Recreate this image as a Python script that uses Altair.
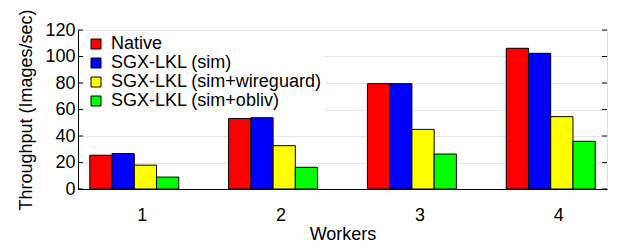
import altair as alt
import pandas as pd

workers = ["1", "2", "3", "4"]
series = ["Native", "SGX-LKL (sim)", "SGX-LKL (sim+wireguard)", "SGX-LKL (sim+obliv)"]
colors = ["#ff0000", "#0000ff", "#ffff00", "#00ff00"]
native = [25.5, 53.2, 79.5, 106.2]
sgx_sim = [26.8, 53.8, 79.5, 102.4]
sgx_wg = [18.0, 32.7, 45.0, 54.6]
sgx_obliv = [9.0, 16.4, 26.4, 36.0]
y_ticks = [0, 20, 40, 60, 80, 100, 120]

rows = []
for name, vals in zip(series, [native, sgx_sim, sgx_wg, sgx_obliv]):
    for w, v in zip(workers, vals):
        rows.append({"Workers": w, "Series": name, "Value": v})
df = pd.DataFrame(rows)
ticks_df = pd.DataFrame({"t": y_ticks})

W, H = 529, 159
FONT = "Liberation Sans"
FS = 18

yscale = alt.Scale(domain=[0, 120], nice=False)
y_axis = alt.Axis(title="Throughput (Images/sec)", values=y_ticks, ticks=False,
                  labelOverlap=False, labelPadding=3, titlePadding=9,
                  domainColor="black", gridColor="#e6e6e6", gridWidth=1,
                  labelFontSize=FS, titleFontSize=FS, labelFont=FONT, titleFont=FONT,
                  labelColor="black", titleColor="black", titleFontWeight="normal")

bars = alt.Chart(df).mark_bar(stroke="black", strokeWidth=1).encode(
    x=alt.X("Workers:N", sort=workers,
            scale=alt.Scale(paddingInner=0.359, paddingOuter=0.085),
            axis=alt.Axis(title="Workers", labelAngle=0, ticks=False, labelOffset=8,
                          labelPadding=17, titlePadding=1, domainColor="black",
                          labelFontSize=FS, titleFontSize=FS, labelFont=FONT, titleFont=FONT,
                          labelColor="black", titleColor="black", titleFontWeight="normal")),
    xOffset=alt.XOffset("Series:N", sort=series),
    y=alt.Y("Value:Q", scale=yscale, axis=y_axis),
    color=alt.Color("Series:N", sort=series,
                    scale=alt.Scale(domain=series, range=colors),
                    legend=alt.Legend(title=None, orient="none", legendX=6, legendY=2,
                                      padding=3, fillColor="white", symbolType="square",
                                      symbolSize=100, symbolStrokeColor="black",
                                      symbolStrokeWidth=1, labelFontSize=FS, labelFont=FONT,
                                      labelColor="black", rowPadding=1, labelOffset=6,
                                      labelLimit=400)),
)

left_ticks = alt.Chart(ticks_df).mark_rule(color="black", strokeWidth=1).encode(
    y=alt.Y("t:Q", scale=yscale, axis=y_axis), x=alt.value(0), x2=alt.value(5))
right_ticks = alt.Chart(ticks_df).mark_rule(color="black", strokeWidth=1).encode(
    y=alt.Y("t:Q", scale=yscale, axis=y_axis), x=alt.value(W - 5), x2=alt.value(W))

chart = alt.layer(bars, left_ticks, right_ticks).properties(
    width=W, height=H,
    autosize=alt.AutoSizeParams(type="none"),
    padding={"left": 70, "top": 22, "right": 3, "bottom": 56},
).configure_view(stroke="black", strokeWidth=1).configure(background="white")

chart.save("out.html", embed_options={"renderer": "svg", "actions": False})
